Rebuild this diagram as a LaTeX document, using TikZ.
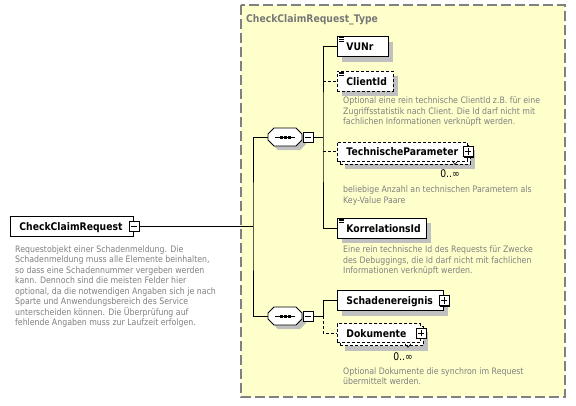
\documentclass[tikz,border=0pt]{standalone}
\usepackage{fontspec}
\setmainfont[FakeStretch=0.88]{DejaVu Sans}
\usetikzlibrary{calc,shadows}
\definecolor{bgyellow}{RGB}{255,255,204}
\definecolor{shadowgray}{RGB}{192,192,192}
\definecolor{desctext}{RGB}{128,128,128}
\definecolor{framegray}{RGB}{128,128,128}
\definecolor{titlegray}{RGB}{120,120,120}
\newcommand\elemfont{\bfseries\fontsize{10.5}{12}\selectfont}
\newcommand\descfont{\fontsize{8.9}{10.5}\selectfont}
\tikzset{
  elem/.style={draw, fill=white, font=\elemfont, line width=0.9pt, inner xsep=9pt, inner ysep=0pt,
    text height=8pt, text depth=0pt, minimum height=20pt, anchor=west, align=left},
  opt/.style={dash pattern=on 3pt off 2pt},
  multi/.style={minimum height=19pt},
  elshadow/.style={general shadow={shadow xshift=5pt, shadow yshift=-5pt, fill=shadowgray}},
  expander/.style={draw, fill=white, line width=0.8pt, minimum size=10pt, inner sep=0pt,
    general shadow={shadow xshift=1pt, shadow yshift=-1pt, fill=black}},
  seqanchor/.style={inner sep=0pt, minimum width=34pt, minimum height=18pt},
  desc/.style={anchor=north west, inner sep=0pt, align=left, font=\descfont, text=desctext},
  conn/.style={line width=0.8pt},
  occ/.style={font=\fontsize{10.5}{12}\selectfont, inner sep=0pt},
  octo/.pic={\path[pic actions] (-11,-9) -- (11,-9) -- (17,-3) -- (17,3) -- (11,9) -- (-11,9) -- (-17,3) -- (-17,-3) -- cycle;}
}
\begin{document}
\begin{tikzpicture}[x=1pt,y=-1pt]
\useasboundingbox (0,0) rectangle (576,405);
\fill[white] (0,0) rectangle (576,405);
% type frame
\draw[framegray, line width=1.5pt, dash pattern=on 10pt off 4pt, fill=bgyellow] (241,5) rectangle (565,397);
\node[anchor=base west, inner sep=0pt, font=\elemfont, text=titlegray] (title) at (246,22) {CheckClaimRequest\_Type};

% root element
\node[elem, text width=105pt] (ccr) at (10,226) {CheckClaimRequest};
\node[expander] (ccrx) at (ccr.east) {};
\draw[line width=0.8pt] ([xshift=2pt]ccrx.west) -- ([xshift=-2pt]ccrx.east);
\node[desc] (ccrdesc) at (15,245.5) {Requestobjekt einer Schadenmeldung. Die\\
Schadenmeldung muss alle Elemente beinhalten,\\
so dass eine Schadennummer vergeben werden\\
kann. Dennoch sind die meisten Felder hier\\
optional, da die notwendigen Angaben sich je nach\\
Sparte und Anwendungsbereich des Service\\
unterscheiden können. Die Überprüfung auf\\
fehlende Angaben muss zur Laufzeit erfolgen.};

% sequences
\node[seqanchor] (s1) at (285,137) {};
\node[seqanchor] (s2) at (285,316) {};
\foreach \s in {s1,s2} {
  \pic[fill=shadowgray] at ($(\s)+(4,4)$) {octo};
  \pic[draw, fill=white, line width=0.8pt] at (\s) {octo};
  \draw[line width=0.8pt] ($(\s)+(-10,0)$) -- ($(\s)+(10,0)$);
  \foreach \dx in {-4,0,4} \fill ($(\s)+(\dx-1.5,-1.5)$) rectangle ++(3,3);
}
\node[expander] (s1x) at (308,137) {};
\node[expander] (s2x) at (308,316) {};
\foreach \x in {s1x,s2x} \draw[line width=0.8pt] ([xshift=2pt]\x.west) -- ([xshift=-2pt]\x.east);

\coordinate (j0) at (253,226);
\coordinate (j1) at (323,137);
\coordinate (j2) at (323,316);

% children of sequence 1
\node[elem, elshadow, text width=33pt] (vunr) at (337,46.5) {VUNr};
\node[elem, opt, elshadow, text width=38pt] (client) at (337,81) {ClientId};
\node[elem, opt, multi, elshadow, text width=112pt] (tpb) at (340,154.5) {};
\node[elem, opt, multi, text width=112pt] (tp) at (337,151.5) {TechnischeParameter};
\node[expander] (tpx) at (tp.east) {};
\node[elem, elshadow, text width=71pt] (korr) at (337,228) {KorrelationsId};

% children of sequence 2
\node[elem, elshadow, text width=88pt] (schaden) at (337,300.5) {Schadenereignis};
\node[expander] (schadenx) at (schaden.east) {};
\node[elem, opt, multi, elshadow, text width=65pt] (dokb) at (340,336) {};
\node[elem, opt, multi, text width=65pt] (dok) at (337,333) {Dokumente};
\node[expander] (dokx) at (dok.east) {};

\foreach \x in {tpx,schadenx,dokx} {
  \draw[line width=0.8pt] ([xshift=2pt]\x.west) -- ([xshift=-2pt]\x.east);
  \draw[line width=0.8pt] ([yshift=2pt]\x.south) -- ([yshift=-2pt]\x.north);
}
% simple-content icons
\foreach \n in {vunr,client,korr}
  \foreach \d in {1.5,3.2,4.9}
    \draw[line width=0.6pt] ($(\n.north west)+(2,\d)$) -- ++(5,0);

% occurrence labels
\node[occ] (tpocc) at (450,174) {0..∞};
\node[occ] (dokocc) at (403,357) {0..∞};
\draw[line width=0.6pt] ($(tpocc.north)+(2,-9)$) -- ++(3,3.5) -- ++(3,-3.5);
\draw[line width=0.6pt] ($(dokocc.north)+(2,-9)$) -- ++(3,3.5) -- ++(3,-3.5);

% descriptions
\node[desc] (clientdesc) at (343,96.7) {Optional eine rein technische ClientId z.B. für eine\\
Zugriffsstatistik nach Client. Die Id darf nicht mit\\
fachlichen Informationen verknüpft werden.};
\node[desc] (tpdesc) at (343,185.7) {beliebige Anzahl an technischen Parametern als\\
Key-Value Paare};
\node[desc] (korrdesc) at (343,245.7) {Eine rein technische Id des Requests für Zwecke\\
des Debuggings, die Id darf nicht mit fachlichen\\
Informationen verknüpft werden.};
\node[desc] (dokdesc) at (343,367.5) {Optional Dokumente die synchron im Request\\
übermittelt werden.};

% connectors
\draw[conn] (ccrx.east) -- (j0);
\draw[conn] (s1.west) -| (j0) |- (s2.west);
\draw[conn] (s1x.east) -- (j1);
\draw[conn] (vunr.west) -| (j1) |- (korr.west);
\draw[conn, opt] (j1 |- client.west) -- (client.west);
\draw[conn, opt] (j1 |- tp.west) -- (tp.west);
\draw[conn] (s2x.east) -- (j2);
\draw[conn] (j2) |- (schaden.west);
\draw[conn, opt] (j2) |- (dok.west);
\end{tikzpicture}
\end{document}
